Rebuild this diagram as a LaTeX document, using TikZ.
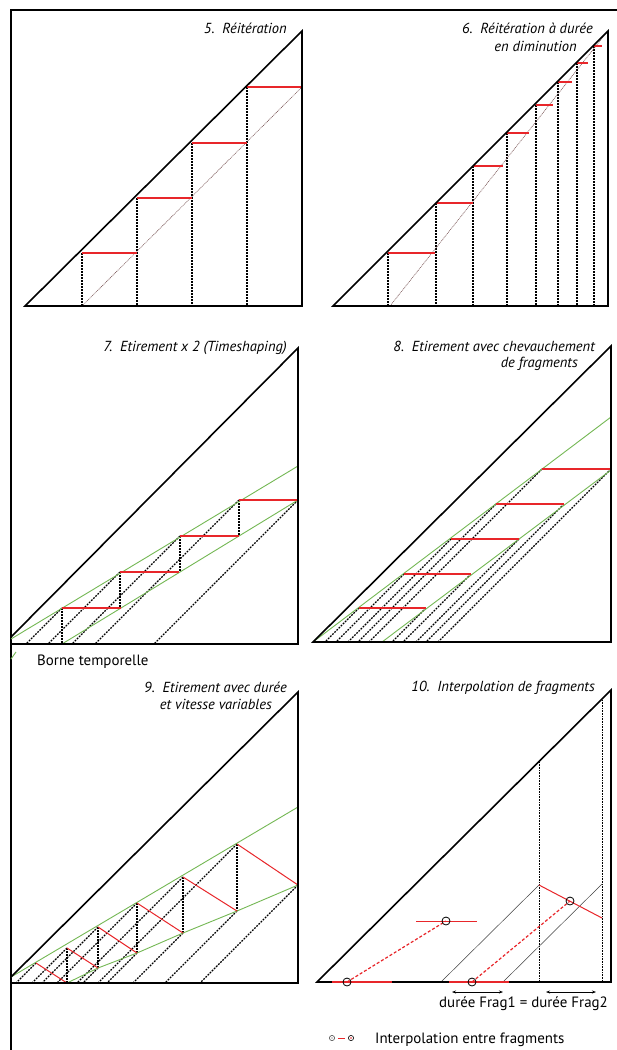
\documentclass[tikz,border=0pt]{standalone}
\usepackage{fontspec}
\setmainfont{PT Sans}
\usetikzlibrary{arrows.meta}
\definecolor{myred}{RGB}{232,38,42}
\definecolor{mygreen}{RGB}{116,184,84}
\definecolor{guidec}{RGB}{125,90,90}
\begin{document}
\begin{tikzpicture}[x=1bp,y=-1bp,
  frame/.style={line width=2bp, black},
  tri/.style={line width=1.6bp, black, line join=miter},
  redstep/.style={myred, line width=1.8bp},
  redthin/.style={myred, line width=1bp},
  grn/.style={mygreen, line width=0.9bp},
  dsh/.style={black, line width=1.15bp, dash pattern=on 1.8bp off 1.2bp},
  guide/.style={guidec, line width=0.6bp, dash pattern=on 1bp off 0.8bp},
  thinl/.style={black!75, line width=0.5bp},
  dotv/.style={black, line width=0.55bp, dash pattern=on 0.8bp off 0.8bp},
  reddash/.style={myred, line width=1.2bp, dash pattern=on 3bp off 2bp},
  circ/.style={black, line width=0.8bp},
  dbl/.style={black, line width=0.6bp, {Stealth[length=4bp,width=3bp]}-{Stealth[length=4bp,width=3bp]}},
  title/.style={font=\fontsize{14.6}{17}\selectfont\itshape, inner sep=0pt, anchor=base east},
  legend/.style={font=\fontsize{15}{17}\selectfont, inner sep=0pt, anchor=base west}
]
\useasboundingbox (0,0) rectangle (617,1050);
\fill[white] (0,0) rectangle (617,1050);
% frame
\draw[frame] (617,10) -- (10,10);
\draw[frame] (11,10) -- (11,1050);

% ===== Panel 5 =====
\foreach \x/\y in {82/253,137/198,192/143,247/87} {\draw[dsh] (\x,\y) -- (\x,306);}
\draw[guide] (82,306) -- (302,87);
\draw[redstep] (25,306) -- (82,306);
\foreach \x/\y in {82/253,137/198,192/143,247/87} {\draw[redstep] (\x,\y) -- ({\x+55},\y);}
\draw[tri] (25,306) -- (302,31) -- (302,306) -- cycle;
\node[title] (t5) at (287,33) {5.\ \ Réitération};

% ===== Panel 6 =====
\foreach \x/\y in {388/253,436/203,473/166,507/133,536/105,558/82,577/63,594/46} {\draw[dsh] (\x,\y) -- (\x,306);}
\draw[guide] (390,306) -- (607,32);
\draw[redstep] (333,306) -- (388,306);
\foreach \x/\e/\y in {388/435/253,436/473/203,473/503/166,507/529/133,536/553/105,558/572/82,577/588/63,594/602/46} {\draw[redstep] (\x,\y) -- (\e,\y);}
\draw[tri] (333,306) -- (608,31) -- (608,306) -- cycle;
\node[title] (t6a) at (593,33) {6.\ \ Réitération à durée};
\node[title] (t6b) at (577,51) {en diminution};

% ===== Panel 7 =====
\foreach \x/\y/\b in {62/608/26,120/572/48,180/536/72,239/500/95,298/500/154} {\draw[dsh] (\x,\y) -- (\b,644);}
\foreach \x/\a/\b in {62/608/644,120/572/608,180/536/572,239/500/536} {\draw[dsh] (\x,\a) -- (\x,\b);}
\draw[grn] (11,639) -- (298,466);
\draw[grn] (62,644) -- (298,500);
\draw[redstep] (11,644) -- (62,644);
\foreach \x/\y in {62/608,120/572,180/536,239/500} {\draw[redstep] (\x,\y) -- ({\x+59},\y);}
\draw[tri] (11,637) -- (298,348) -- (298,644) -- (11,644);
\node[title] (t7) at (287,351) {7.\ \ Etirement x 2 (Timeshaping)};
\draw[grn] (11,659) -- (16,652);
\node[legend] (borne) at (37,665) {Borne temporelle};

% ===== Panel 8 =====
\foreach \sx/\ex/\yy in {359/426/608, 404/471/574, 451/519/539, 496/564/504, 542/611/469} {
  \draw[dsh] (\sx,\yy) -- ({\sx-(642-\yy)},642);
  \draw[dsh] (\ex,\yy) -- ({\ex-(642-\yy)},642);
}
\draw[grn] (313,642) -- (611,417);
\draw[grn] (382,642) -- (611,470);
\draw[redstep] (313,642) -- (382,642);
\foreach \sx/\ex/\yy in {359/426/608, 404/471/574, 451/519/539, 496/564/504, 542/611/469} {\draw[redstep] (\sx,\yy) -- (\ex,\yy);}
\draw[tri] (313,642) -- (611,346) -- (611,642) -- cycle;
\node[title] (t8a) at (595,351) {8.\ \ Etirement avec chevauchement};
\node[title] (t8b) at (578,367) {de fragments};

% ===== Panel 9 =====
\foreach \ax/\ay/\bx/\by in {36/963/67/983, 67/948/98/968, 98/927/137/953, 137/903/183/933, 183/877/237/911, 237/844/298/885} {
  \draw[dsh] (\ax,\ay) -- ({\ax-(983-\ay)},983);
  \draw[dsh] (\bx,\by) -- ({\bx-(983-\by)},983);
}
\foreach \x/\a/\b in {67/948/983, 98/927/968, 137/903/953, 183/877/933, 237/844/911} {\draw[dsh] (\x,\a) -- (\x,\b);}
\draw[grn] (11,977) -- (298,807);
\draw[grn] (67,983) -- (98,968) -- (137,953) -- (183,933) -- (237,911) -- (298,885);
\foreach \ax/\ay/\bx/\by in {36/963/67/983, 67/948/98/968, 98/927/137/953, 137/903/183/933, 183/877/237/911, 237/844/298/885} {\draw[redthin] (\ax,\ay) -- (\bx,\by);}
\draw[tri] (11,977) -- (298,692) -- (298,983) -- (11,983);
\node[title] (t9a) at (287,692) {9.\ \ Etirement avec durée};
\node[title] (t9b) at (272,709) {et vitesse variables};

% ===== Panel 10 =====
\draw[dotv] (539,762) -- (539,982);
\draw[dotv] (602,700) -- (602,982);
\draw[thinl] (441,982) -- (539,885);
\draw[thinl] (503,982) -- (602,884);
\draw[redthin] (539,885) -- (602,918);
\draw[redthin] (416,921.5) -- (477,921.5);
\draw[tri] (317,982) -- (611,690) -- (611,982) -- cycle;
\draw[redstep] (332,982) -- (392,982);
\draw[redstep] (449,982) -- (509,982);
\coordinate (c1) at (347,982);
\coordinate (c2) at (446,921);
\coordinate (c3) at (472,982);
\coordinate (c4) at (570,901);
\draw[reddash] (c1) -- (c2);
\draw[reddash] (c3) -- (c4);
\foreach \c in {c1,c2,c3,c4} {\draw[circ] (\c) circle[radius=4bp];}
\draw[dbl] (452,992) -- (503,992);
\draw[dbl] (546,992) -- (596,992);
\node[legend] (duree) at (439,1007) {durée Frag1 = durée Frag2};
\node[title] (t10) at (595,691) {10.\ \ Interpolation de fragments};

% legend bottom
\coordinate (l1) at (332,1038);
\coordinate (l2) at (351,1038);
\draw[myred, line width=1bp] (338,1038) -- (345,1038);
\draw[black!70, line width=0.6bp] (l1) circle[radius=2.6bp];
\draw[black, line width=0.6bp] (l2) circle[radius=2.6bp];
\fill[myred] (l2) circle[radius=0.8bp];
\fill[black!70] (l1) circle[radius=0.7bp];
\node[legend] (interp) at (375,1043) {Interpolation entre fragments};
\end{tikzpicture}
\end{document}
